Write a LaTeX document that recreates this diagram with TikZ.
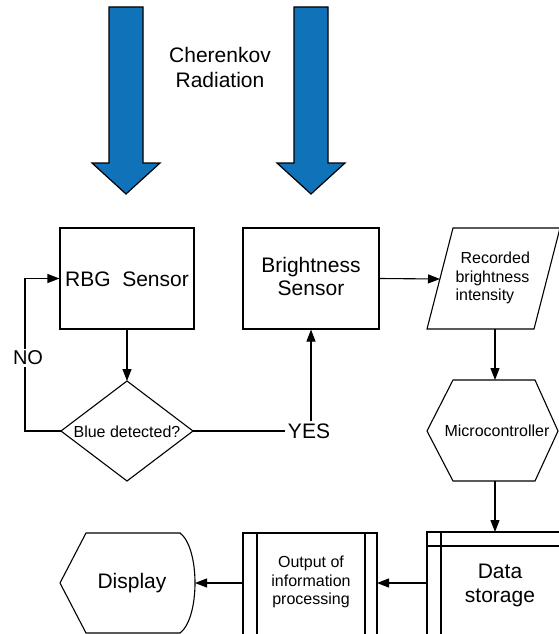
\documentclass[tikz,border=0pt]{standalone}
\usepackage{fontspec}
\setmainfont{Liberation Sans}
\usetikzlibrary{arrows.meta,calc}
\definecolor{arrowblue}{RGB}{16,114,185}
\begin{document}
\begin{tikzpicture}[x=1pt,y=-1pt,
  line width=1.1pt,
  conn/.style={draw, line width=1.1pt, -{Triangle[length=12pt,width=9pt]}},
  plainline/.style={draw, line width=1.1pt},
  shapeline/.style={draw, line width=1.1pt, fill=white, line join=miter},
  lab/.style={inner sep=0pt, align=center, font=\fontsize{21}{24}\selectfont},
  small/.style={inner sep=0pt, align=center, font=\fontsize{16}{18.5}\selectfont},
  bigarrow/.style={draw=black, fill=arrowblue, line width=1.2pt, line join=miter},
  boxnode/.style={draw, line width=1.1pt, minimum height=101pt},
]
\clip (0,0) rectangle (559,634);
\fill[white] (0,0) rectangle (559,634);

% big blue arrows
\draw[bigarrow] (109,7) -- (143,7) -- (143,163) -- (160,163) -- (126,194) -- (92,163) -- (109,163) -- cycle;
\draw[bigarrow] (294,7) -- (328,7) -- (328,163) -- (345,163) -- (311,194) -- (277,163) -- (294,163) -- cycle;
\node[lab, font=\fontsize{21}{25}\selectfont] (cher) at (220,67) {Cherenkov\\Radiation};

% sensors
\node[boxnode, minimum width=134pt] (rbg) at (127,278.5) {};
\node[lab] (rbgtext) at (127,279) {RBG\ \ Sensor};
\node[boxnode, minimum width=136pt] (bright) at (311,278.5) {};
\node[lab, font=\fontsize{21}{23}\selectfont] (brighttext) at (311,276.5) {Brightness\\Sensor};

% diamond
\coordinate (dtop) at (127,381);
\coordinate (dleft) at (61,431);
\coordinate (dright) at (193,431);
\coordinate (dbot) at (127,481);
\draw[shapeline] (dtop) -- (dright) -- (dbot) -- (dleft) -- cycle;
\node[small] (dtext) at (127,432) {Blue detected?};

\draw[conn] (rbg.south) -- (dtop);

% NO loop
\coordinate (noturn) at (25,431);
\draw[conn] (dleft) -- (noturn) |- (rbg.west);
\node[lab, font=\fontsize{20}{24}\selectfont, fill=white, inner sep=2pt] (no) at (28,358) {NO};

% YES
\node[lab, inner sep=2pt] (yes) at (309,431) {YES};
\draw[plainline] (dright) -- (yes.west);
\draw[conn] (yes.north -| bright.south) -- (bright.south);

% parallelogram
\coordinate (pleft) at (440,279);
\coordinate (pbot) at (495,329);
\draw[shapeline] (453,228) -- (560,228) -- (534,329) -- (427,329) -- cycle;
\node[small, align=left, anchor=west] (ptext) at (455,278) {\hspace*{5pt}Recorded\\brightness\\intensity};
\draw[conn] (bright.east) -- (pleft);

% hexagon
\coordinate (htop) at (495,380);
\coordinate (hbot) at (495,481);
\draw[shapeline] (453,380) -- (535,380) -- (558,431) -- (535,481) -- (453,481) -- (427,431) -- cycle;
\node[small] (hex) at (497,431) {Microcontroller};
\draw[conn] (pbot) -- (htop);

% data storage
\coordinate (stop) at (495,532);
\coordinate (sleft) at (427,583);
\draw[shapeline] (427,532) rectangle (600,660);
\draw[plainline] (441,532) -- (441,660);
\draw[plainline] (427,546) -- (600,546);
\node[lab] (storage) at (500,585) {Data\\storage};
\draw[conn] (hbot) -- (stop);

% output of information processing
\coordinate (oright) at (377,583);
\coordinate (oleft) at (243,583);
\draw[shapeline] (243,533) rectangle (377,640);
\draw[plainline] (257,533) -- (257,640);
\draw[plainline] (365,533) -- (365,640);
\node[small] (output) at (311,582) {Output of\\information\\processing};
\draw[conn] (sleft) -- (oright);

% display
\coordinate (dispright) at (195,583);
\draw[shapeline] (60,583) -- (86,533) -- (180,533) .. controls (200,548) and (200,618) .. (180,633) -- (86,633) -- cycle;
\node[lab] (display) at (132,583) {Display};
\draw[conn] (oleft) -- (dispright);
\end{tikzpicture}
\end{document}
